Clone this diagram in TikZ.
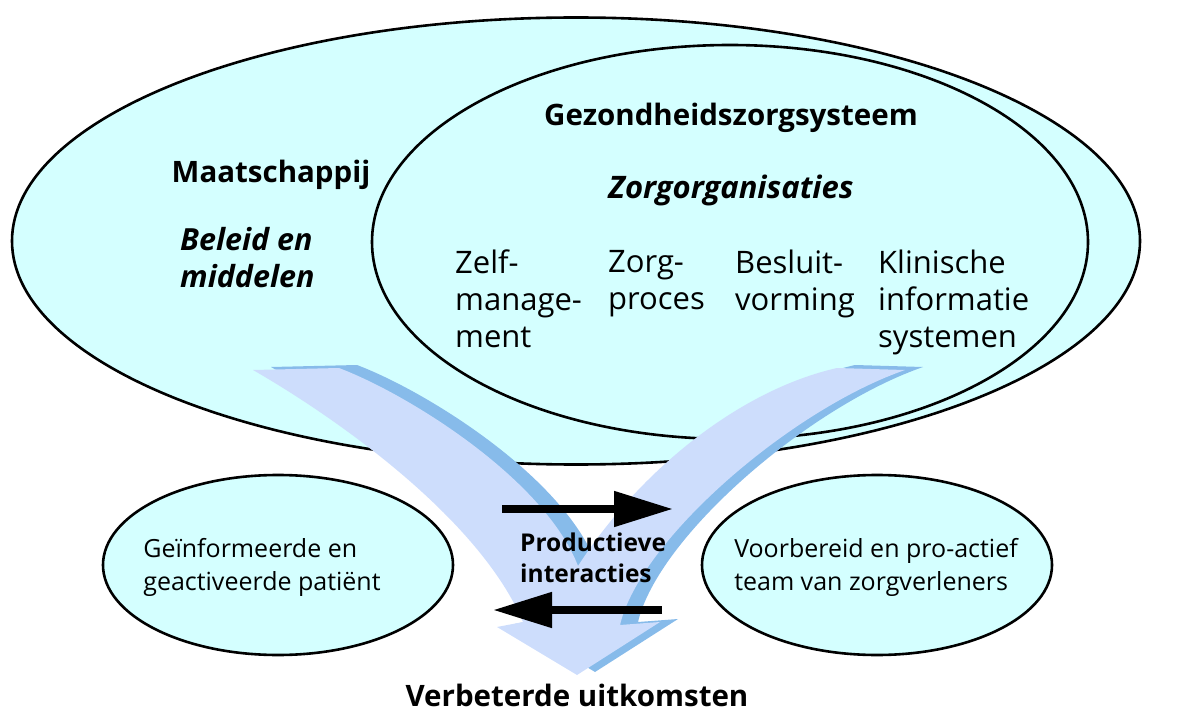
\documentclass[tikz,border=0pt]{standalone}
\usepackage{fontspec}
\setmainfont{Open Sans}
\usetikzlibrary{shapes.geometric,arrows.meta}
\definecolor{bolcyan}{RGB}{212,255,255}
\definecolor{vlicht}{RGB}{205,221,252}
\definecolor{vdonker}{RGB}{135,187,234}
% omtrek van de grote V-pijl
\def\vorm{(253,370) .. controls (340,420) and (480,520) .. (523,622) -- (497,627) -- (577,675) -- (660,622) -- (620,625)
  .. controls (640,540) and (790,410) .. (905,370) -- (837,368) .. controls (740,390) and (640,470) .. (578,566)
  .. controls (545,480) and (410,395) .. (339,368) -- cycle}
\begin{document}
\begin{tikzpicture}[x=1pt,y=-1pt,
    bol/.style={ellipse,draw,line width=2.6pt,fill=bolcyan,inner sep=0pt},
    kop/.style={font=\fontsize{29.5}{36}\selectfont\bfseries,inner sep=0pt},
    schuin/.style={font=\fontsize{30.5}{37}\selectfont\bfseries\itshape,inner sep=0pt,align=left},
    kolom/.style={font=\fontsize{31}{37}\selectfont,inner sep=0pt,align=left,anchor=north west},
    klein/.style={font=\fontsize{25}{33}\selectfont,inner sep=0pt,align=left},
    pijl/.style={line width=8pt,-{Triangle[length=59pt,width=34pt]}}]
  \useasboundingbox (0,0) rectangle (1178,711);
  \node[bol,minimum width=1128pt,minimum height=447pt] (maatschappij) at (576,241) {};
  \node[bol,minimum width=716pt,minimum height=394pt] (zorgsysteem) at (730,242) {};
  % V-pijl met donkere rand
  \fill[vdonker,shift={(18,-3)}] \vorm;
  \fill[vlicht] \vorm;
  \coordinate (heenA) at (502,509);
  \coordinate (heenB) at (673,509);
  \coordinate (terugA) at (662,610);
  \coordinate (terugB) at (493,610);
  \draw[pijl] (heenA) -- (heenB);
  \draw[pijl] (terugA) -- (terugB);
  \node[bol,minimum width=350pt,minimum height=180pt] (patient) at (278,565) {};
  \node[bol,minimum width=350pt,minimum height=180pt] (team) at (877,565) {};
  % teksten
  \node[kop] (maatschappijtekst) at (271,175) {Maatschappij};
  \node[schuin,anchor=north west] (beleid) at (180,227) {Beleid en\\middelen};
  \node[kop] (zorgsysteemtekst) at (731,118) {Gezondheidszorgsysteem};
  \node[kop,font=\fontsize{31}{36}\selectfont\bfseries\itshape] (organisaties) at (731,190) {Zorgorganisaties};
  \node[kolom] (zelf) at (455,250) {Zelf-\\manage-\\ment};
  \node[kolom] (proces) at (608,250) {Zorg-\\proces};
  \node[kolom] (besluit) at (735,250) {Besluit-\\vorming};
  \node[kolom] (klinisch) at (878,250) {Klinische\\informatie\\systemen};
  \node[klein] (patienttekst) at (262,567) {Geïnformeerde en\\geactiveerde patiënt};
  \node[klein] (teamtekst) at (876,567) {Voorbereid en pro-actief\\team van zorgverleners};
  \node[kop,font=\fontsize{24.5}{31}\selectfont\bfseries,align=left,anchor=west] (interacties) at (520,558) {Productieve\\interacties};
  \node[kop] (uitkomsten) at (577,695) {Verbeterde uitkomsten};
\end{tikzpicture}
\end{document}
